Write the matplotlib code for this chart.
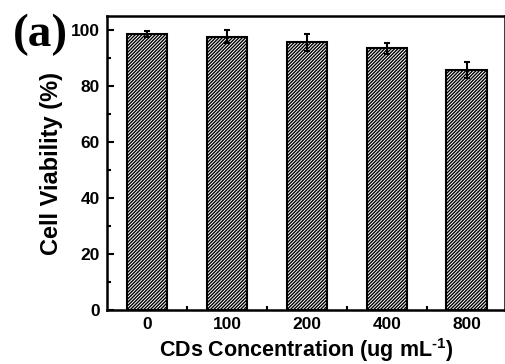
import matplotlib.pyplot as plt
from matplotlib.ticker import MultipleLocator

# cell viability vs CDs concentration
conc_labels = ["0", "100", "200", "400", "800"]
viability = [98.6, 97.6, 95.6, 93.5, 85.7]
viability_err = [1.0, 2.4, 3.0, 2.0, 3.0]

plt.rcParams['font.family'] = ['Liberation Sans', 'DejaVu Sans']
plt.rcParams['hatch.linewidth'] = 1.0
plt.rcParams['mathtext.fontset'] = 'custom'
plt.rcParams['mathtext.rm'] = 'Liberation Sans:bold'
plt.rcParams['mathtext.bf'] = 'Liberation Sans:bold'

fig = plt.figure(figsize=(5.06, 3.64), dpi=100)
ax = fig.add_axes([0.2115, 0.148, 0.787, 0.808])

x = list(range(len(conc_labels)))
ax.bar(x, viability, width=0.51, color='white', edgecolor='black',
       linewidth=1.5, hatch='//////////', zorder=2)
ax.errorbar(x, viability, yerr=viability_err, fmt='none', ecolor='black',
            elinewidth=1.5, capsize=2.5, capthick=1.5, zorder=3)

ax.set_xlim(-0.5, 4.48)
ax.set_ylim(0, 105)
ax.set_xticks(x)
ax.set_xticklabels(conc_labels)
ax.yaxis.set_major_locator(MultipleLocator(20))
ax.yaxis.set_minor_locator(MultipleLocator(10))
# x minor ticks only between bars
ax.set_xticks([0.5, 1.5, 2.5, 3.5], minor=True)

# inward ticks, only on left and bottom
ax.tick_params(which='both', direction='in', top=False, right=False,
               labelsize=12.5, width=1.5)
ax.tick_params(which='major', length=5, pad=5)
ax.tick_params(which='minor', length=3)
for lbl in ax.get_xticklabels() + ax.get_yticklabels():
    lbl.set_fontweight('bold')

for side in ax.spines.values():
    side.set_linewidth(1.8)

ax.set_ylabel("Cell Viability (%)", fontsize=17, fontweight='bold')
ax.yaxis.set_label_coords(-0.11, 0.5)
ax.set_xlabel(r"CDs Concentration (ug mL$^{\text{-1}}$)", fontsize=15.5,
              fontweight='bold', va='center')
ax.xaxis.set_label_coords(0.5, -0.135)

fig.text(0.025, 0.905, "(a)", family=['Liberation Serif'], fontsize=34,
         fontweight='bold', va='center', ha='left')

fig.savefig("out.png", dpi=100)
